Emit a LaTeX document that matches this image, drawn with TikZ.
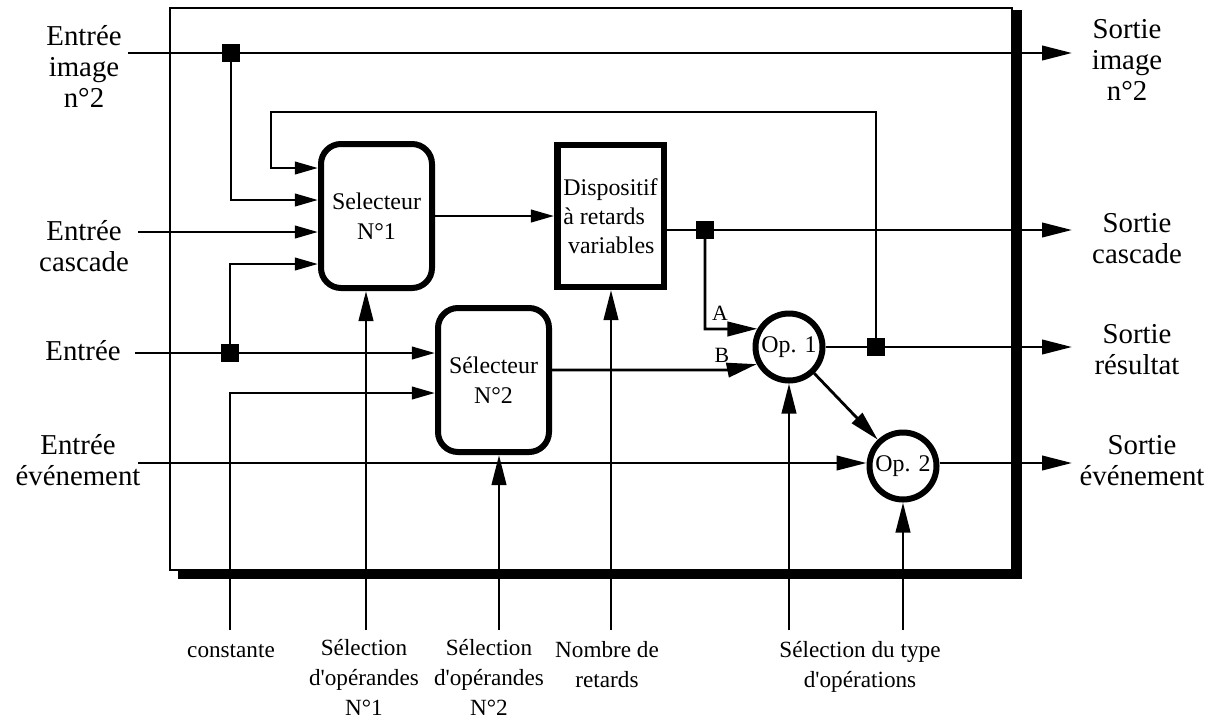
\documentclass[tikz,border=0pt]{standalone}
\usepackage{fontspec}
\setmainfont{Liberation Serif}
\usetikzlibrary{arrows.meta,positioning,calc}

\begin{document}
\begin{tikzpicture}[x=0.25mm, y=-0.25mm, >={Triangle[length=7.5mm,width=3.6mm]},
    wire/.style={line width=0.7mm},
    short/.style={wire, -{Triangle[length=5.8mm,width=3.1mm]}},
    selbox/.style={draw, line width=1.5mm, rounded corners=5mm, minimum width=27.75mm,
      minimum height=36mm, align=center, inner sep=0, font=\fontsize{17}{21}\selectfont},
    delaybox/.style={draw, line width=1.6mm, minimum width=26.6mm, minimum height=35.4mm,
      align=left, inner sep=0, font=\fontsize{17}{20.6}\selectfont},
    opnode/.style={draw, circle, line width=1.5mm, minimum size=16.75mm, inner sep=0,
      font=\fontsize{17}{17}\selectfont},
    jn/.style={fill, minimum size=4.4mm, inner sep=0},
    io/.style={font=\fontsize{20.5}{22}\selectfont, align=center, anchor=base, inner sep=0},
    ctl/.style={font=\fontsize{16.5}{21}\selectfont, align=center, anchor=base, inner sep=0},
    ab/.style={font=\fontsize{15.5}{15.5}\selectfont, inner sep=0}]
  \useasboundingbox (0,0) rectangle (1225,719);
  \draw[wire] (170,8) rectangle (1012,570);
  \fill (1012,10) rectangle (1022,579);
  \fill (178,569) rectangle (1022,579);

  \node[selbox] (sel1) at (376.5,216) {Selecteur\\N°1};
  \node[delaybox] (disp) at (610.5,216) {Dispositif\\à retards\\\hspace{1.2mm}variables};
  \node[selbox] (sel2) at (493.5,380) {Sélecteur\\N°2};
  \node[opnode] (op1) at (789,347) {Op. 1};
  \node[opnode] (op2) at (903,466) {Op. 2};

  \coordinate (inImg) at (128,53);
  \coordinate (outImg) at (1072,53);
  \coordinate (inCas) at (138,232);
  \coordinate (outCas) at (1072,230);
  \coordinate (inEnt) at (135,353);
  \coordinate (outRes) at (1072,347);
  \coordinate (inEv) at (138,463);
  \coordinate (outEv) at (1072,463);
  \coordinate (fbTop) at (271,112);
  \coordinate (aBend) at (727,329);
  \coordinate (bBend) at (728,370);
  \coordinate (cConst) at (230,630);
  \coordinate (cOp1) at (366,630);
  \coordinate (cOp2) at (499,630);
  \coordinate (cRet) at (611,630);
  \coordinate (cType1) at (789,630);
  \coordinate (cType2) at (903,630);

  \node[jn] (jImg) at (231,53) {};
  \node[jn] (jEnt) at (230,353) {};
  \node[jn] (jCas) at (705,230) {};
  \node[jn] (jRes) at (876,347) {};

  \draw[wire,->] (inImg) -- (outImg);
  \draw[short] (inCas) -- (inCas -| sel1.west);
  \draw[short] (inEnt) -- (inEnt -| sel2.west);
  \draw[wire,->] (inEv) -- (inEv -| op2.west);
  \draw[short] (sel1) -- (disp);
  \draw[wire] (disp.east |- jCas) -- (jCas);
  \draw[wire,->] (jCas) -- (outCas);

  \draw[short] (jImg) |- ($(sel1.west)+(0,-16)$);
  \draw[short] (jEnt) |- ($(sel1.west)+(0,48)$);
  \draw[short] (jRes) |- (fbTop) |- ($(sel1.west)+(0,-48)$);
  \draw[short] (cConst) |- ($(sel2.west)+(0,13)$);
  \draw[wire,->] (jCas) |- (aBend) -- (op1.150);
  \draw[wire,->] (sel2.east |- bBend) -- (bBend) -- (op1.208);
  \draw[wire] (op1.east) -- (jRes);
  \draw[wire,->] (jRes) -- (outRes);
  \draw[wire,->] (op1) -- (op2);
  \draw[wire,->] (op2.east |- outEv) -- (outEv);
  \node[ab] (labA) at (720,313) {A};
  \node[ab] (labB) at (722,355) {B};

  \draw[wire,->] (cOp1) -- (cOp1 |- sel1.south);
  \draw[wire,->] (cOp2) -- (cOp2 |- sel2.south);
  \draw[wire,->] (cRet) -- (cRet |- disp.south);
  \draw[wire,->] (cType1) -- (op1.south);
  \draw[wire,->] (cType2) -- (op2.south);

  \node[io] (lImg) at (84,107) {Entrée\\image\\n°2};
  \node[io] (lCas) at (84,271) {Entrée\\cascade};
  \node[io] (lEnt) at (83,360) {Entrée};
  \node[io] (lEv) at (78,485) {Entrée\\événement};
  \node[io] (rImg) at (1127,100) {Sortie\\image\\n°2};
  \node[io] (rCas) at (1137,263) {Sortie\\cascade};
  \node[io] (rRes) at (1137,374) {Sortie\\résultat};
  \node[io] (rEv) at (1142,485) {Sortie\\événement};

  \node[ctl] (tConst) at (231,657) {constante};
  \node[ctl] (tOp1) at (364,715) {Sélection\\d\textquotesingle opérandes\\N°1};
  \node[ctl] (tOp2) at (489,715) {Sélection\\d\textquotesingle opérandes\\N°2};
  \node[ctl] (tRet) at (607,687) {Nombre de\\retards};
  \node[ctl] (tType) at (860,687) {Sélection du type\\d\textquotesingle opérations};
\end{tikzpicture}
\end{document}
